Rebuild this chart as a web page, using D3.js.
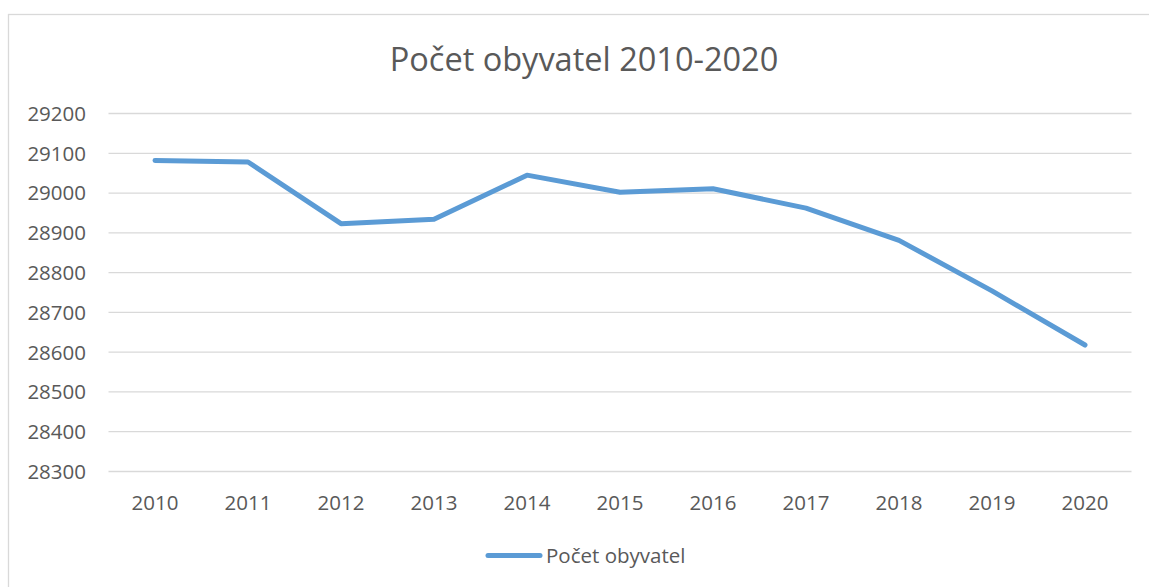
<!DOCTYPE html>
<html>
<head>
<meta charset="utf-8">
<script src="https://cdn.jsdelivr.net/npm/d3@7"></script>
<style>
  body { margin: 0; background: #fff; }
  text { font-family: "Open Sans", sans-serif; fill: #595959; }
</style>
</head>
<body>
<script>
// data
const years = ["2010", "2011", "2012", "2013", "2014", "2015", "2016", "2017", "2018", "2019", "2020"];
const population = [29082, 29078, 28923, 28934, 29045, 29002, 29011, 28962, 28881, 28754, 28618];
const yTicks = [28300, 28400, 28500, 28600, 28700, 28800, 28900, 29000, 29100, 29200];
const seriesName = "Počet obyvatel";
const title = "Počet obyvatel 2010-2020";

const width = 1149;
const height = 587;
const lineColor = "#5b9bd5";

const svg = d3.select("body").append("svg")
  .attr("width", width)
  .attr("height", height);

// chart frame
svg.append("rect")
  .attr("x", 8.5).attr("y", 14.5)
  .attr("width", 1160).attr("height", 600)
  .attr("fill", "#fff")
  .attr("stroke", "#d9d9d9")
  .attr("stroke-width", 1.3);

const x = d3.scaleBand()
  .domain(years)
  .range([108.5, 1131.5]);

const y = d3.scaleLinear()
  .domain([28300, 29200])
  .range([471.5, 113.5]);

// gridlines
svg.append("g")
  .selectAll("line")
  .data(yTicks)
  .enter()
  .append("line")
  .attr("x1", 108.5)
  .attr("x2", 1131.5)
  .attr("y1", d => y(d))
  .attr("y2", d => y(d))
  .attr("stroke", "#d9d9d9")
  .attr("stroke-width", 1.3);

// y labels
svg.append("g")
  .selectAll("text")
  .data(yTicks)
  .enter()
  .append("text")
  .attr("x", 86)
  .attr("y", d => y(d))
  .attr("dy", "0.36em")
  .attr("text-anchor", "end")
  .style("font-size", "20.5px")
  .text(d => d);

// x labels
svg.append("g")
  .selectAll("text")
  .data(years)
  .enter()
  .append("text")
  .attr("x", d => x(d) + x.bandwidth() / 2)
  .attr("y", 510)
  .attr("text-anchor", "middle")
  .style("font-size", "20.5px")
  .text(d => d);

// the line
const line = d3.line()
  .x((d, i) => x(years[i]) + x.bandwidth() / 2)
  .y(d => y(d));

svg.append("path")
  .datum(population)
  .attr("d", line)
  .attr("fill", "none")
  .attr("stroke", lineColor)
  .attr("stroke-width", 5)
  .attr("stroke-linecap", "round")
  .attr("stroke-linejoin", "round");

// title
svg.append("text")
  .attr("x", 584)
  .attr("y", 71)
  .attr("text-anchor", "middle")
  .style("font-size", "32.5px")
  .text(title);

// legend
svg.append("line")
  .attr("x1", 488).attr("x2", 540)
  .attr("y1", 555.5).attr("y2", 555.5)
  .attr("stroke", lineColor)
  .attr("stroke-width", 5)
  .attr("stroke-linecap", "round");

svg.append("text")
  .attr("x", 546)
  .attr("y", 563)
  .style("font-size", "20.5px")
  .text(seriesName);
</script>
</body>
</html>
